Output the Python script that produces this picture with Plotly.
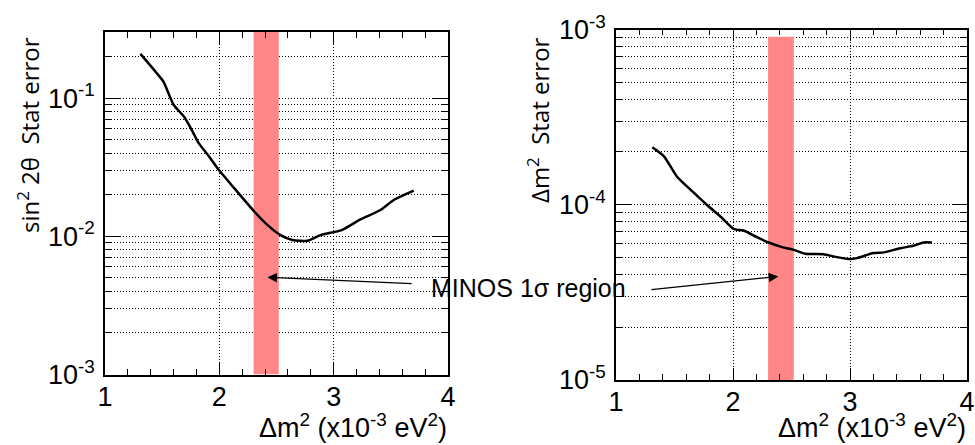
import numpy as np
import plotly.graph_objects as go

# ---- data ----
x_left = [1.31, 1.44, 1.51, 1.60, 1.69, 1.75, 1.82, 1.91, 2.00, 2.13, 2.30, 2.42,
          2.535, 2.64, 2.77, 2.885, 3.07, 3.23, 3.41, 3.525, 3.70]
sin2_err = [0.209, 0.156, 0.132, 0.0895, 0.0736, 0.0607, 0.0472, 0.0378, 0.0299,
            0.0223, 0.0153, 0.0121, 0.0102, 0.0094, 0.0093, 0.0102, 0.0111, 0.0132,
            0.0155, 0.0183, 0.0214]

x_right = [1.31, 1.41, 1.52, 1.66, 1.79, 1.89, 2.01, 2.09, 2.205, 2.305, 2.42, 2.52,
           2.62, 2.775, 2.86, 2.99, 3.06, 3.20, 3.29, 3.43, 3.54, 3.63, 3.70]
dm2_err = [2.13e-4, 1.89e-4, 1.45e-4, 1.18e-4, 9.8e-5, 8.6e-5, 7.26e-5, 7.13e-5,
           6.53e-5, 6.09e-5, 5.73e-5, 5.53e-5, 5.25e-5, 5.22e-5, 5.07e-5, 4.9e-5,
           4.96e-5, 5.3e-5, 5.35e-5, 5.65e-5, 5.83e-5, 6.09e-5, 6.09e-5]

minos_band = [2.30, 2.52]          # MINOS 1 sigma region in dm2
band_left_y = [1e-3, 0.301]
band_right_y = [1e-5, 9.1e-4]

x_ticks = [1, 2, 3, 4]
x_ticktext = ["1", "2", "3", "4"]
left_major = [1e-3, 1e-2, 1e-1]
left_major_text = ["10<sup>-3</sup>", "10<sup>-2</sup>", "10<sup>-1</sup>"]
right_major = [1e-5, 1e-4, 1e-3]
right_major_text = ["10<sup>-5</sup>", "10<sup>-4</sup>", "10<sup>-3</sup>"]

minor_left = [m * 10.0**e for e in (-3, -2, -1) for m in range(2, 10)]
minor_right = [m * 10.0**e for e in (-5, -4) for m in range(2, 10)]

FONT = "Liberation Sans"
TFONT = "Open Sans"
BAND = "rgb(255,135,135)"
DASH = "1px,2px"

fig = go.Figure()

# bands
fig.add_trace(go.Scatter(
    x=[minos_band[0], minos_band[1], minos_band[1], minos_band[0], minos_band[0]],
    y=[band_left_y[0], band_left_y[0], band_left_y[1], band_left_y[1], band_left_y[0]],
    fill="toself", fillcolor=BAND, line=dict(width=0), mode="lines",
    xaxis="x", yaxis="y", showlegend=False, hoverinfo="skip"))
fig.add_trace(go.Scatter(
    x=[minos_band[0], minos_band[1], minos_band[1], minos_band[0], minos_band[0]],
    y=[band_right_y[0], band_right_y[0], band_right_y[1], band_right_y[1], band_right_y[0]],
    fill="toself", fillcolor=BAND, line=dict(width=0), mode="lines",
    xaxis="x2", yaxis="y2", showlegend=False, hoverinfo="skip"))

# curves
fig.add_trace(go.Scatter(x=x_left, y=sin2_err, mode="lines",
                         line=dict(color="black", width=2.5, shape="spline", smoothing=0.6),
                         xaxis="x", yaxis="y", showlegend=False))
fig.add_trace(go.Scatter(x=x_right, y=dm2_err, mode="lines",
                         line=dict(color="black", width=2.5, shape="spline", smoothing=0.6),
                         xaxis="x2", yaxis="y2", showlegend=False))

W, H = 975, 445


def xax(domain, anchor):
    return dict(domain=domain, anchor=anchor, range=[1, 4], tickvals=x_ticks,
                ticktext=x_ticktext, ticks="inside", ticklen=12, tickwidth=1,
                tickcolor="black", showline=True, linecolor="black", linewidth=1.5,
                mirror="allticks", showgrid=True, gridcolor="black", griddash=DASH,
                gridwidth=1, zeroline=False, ticklabelstandoff=-3, automargin=False,
                tickfont=dict(family=FONT, size=27, color="black"),
                minor=dict(dtick=0.2, tick0=1, ticks="inside", ticklen=6,
                           tickcolor="black", showgrid=False))


def yax(domain, anchor, rng, major, major_text, minor_vals):
    return dict(domain=domain, anchor=anchor, type="log", range=rng,
                tickvals=major, ticktext=major_text, ticks="inside", ticklen=15,
                tickwidth=1, tickcolor="black", showline=True, linecolor="black",
                linewidth=1.5, mirror="allticks", showgrid=True, gridcolor="black",
                griddash=DASH, gridwidth=1, zeroline=False, ticklabelstandoff=3,
                automargin=False,
                tickfont=dict(family=FONT, size=27, color="black"),
                minor=dict(tickvals=minor_vals, ticks="inside", ticklen=7,
                           tickcolor="black", showgrid=True, gridcolor="black",
                           griddash=DASH, gridwidth=1))


fig.update_layout(
    template="none",
    width=W, height=H, margin=dict(l=0, r=0, t=0, b=0, pad=0, autoexpand=False),
    paper_bgcolor="white", plot_bgcolor="white", showlegend=False,
    xaxis=xax([105 / W, 448 / W], "y"),
    yaxis=yax([1 - 374.5 / H, 1 - 32 / H], "x", [-3, np.log10(0.301)],
              left_major, left_major_text, minor_left),
    xaxis2=xax([616 / W, 967 / W], "y2"),
    yaxis2=yax([1 - 380 / H, 1 - 29.5 / H], "x2", [-5, -3],
               right_major, right_major_text, minor_right),
)

ann = []
# axis titles
ann.append(dict(text="sin<sup>2</sup> 2θ  Stat error", xref="paper", yref="paper",
                x=28 / W, y=1 - 135 / H, textangle=-90, showarrow=False,
                xanchor="center", yanchor="middle",
                font=dict(family=TFONT, size=24, color="black")))
ann.append(dict(text="Δm<sup>2</sup>  Stat error", xref="paper", yref="paper",
                x=538 / W, y=1 - 120 / H, textangle=-90, showarrow=False,
                xanchor="center", yanchor="middle",
                font=dict(family=TFONT, size=24, color="black")))
for xr in (449, 968):
    ann.append(dict(text="Δm<sup>2</sup> (x10<sup>-3</sup> eV<sup>2</sup>)",
                    xref="paper", yref="paper", x=xr / W, y=1 - 426 / H,
                    showarrow=False, xanchor="right", yanchor="middle",
                    font=dict(family=FONT, size=27, color="black")))
# MINOS label
ann.append(dict(text="MINOS 1σ region", xref="paper", yref="paper",
                x=528 / W, y=1 - 288 / H, showarrow=False, xanchor="center",
                yanchor="middle", font=dict(family=FONT, size=25, color="black")))
# arrows
ann.append(dict(text="", x=2.42, y=np.log10(5.05e-3), xref="x", yref="y",
                ax=3.695, ay=np.log10(4.54e-3), axref="x", ayref="y",
                showarrow=True, arrowhead=2, arrowsize=1.6, arrowwidth=1.2,
                arrowcolor="black", standoff=0))
ann.append(dict(text="", x=2.387, y=np.log10(3.9e-5), xref="x2", yref="y2",
                ax=1.29, ay=np.log10(3.27e-5), axref="x2", ayref="y2",
                showarrow=True, arrowhead=2, arrowsize=1.6, arrowwidth=1.2,
                arrowcolor="black", standoff=0))
fig.update_layout(annotations=ann)

fig.write_html("out.html", config={"displayModeBar": False},
               post_script="document.body.style.margin='0';"
                           "document.body.style.overflow='hidden';")
